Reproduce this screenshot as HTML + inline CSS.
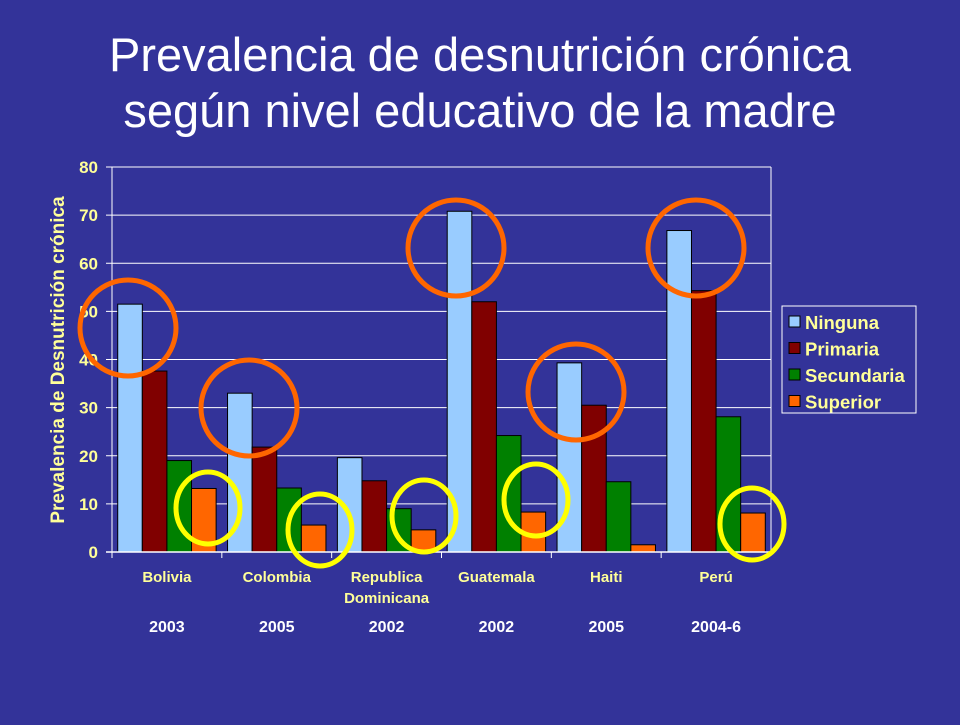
<!DOCTYPE html>
<html><head><meta charset="utf-8"><style>
body{margin:0;background:#333399;}
svg text{font-family:"Liberation Sans",Arial,sans-serif;}
</style></head><body>
<svg width="960" height="720" viewBox="0 0 960 720">
<rect width="960" height="720" fill="#333399"/>
<text x="480" y="71" text-anchor="middle" font-size="47" fill="#ffffff">Prevalencia de desnutrición crónica</text>
<text x="480" y="127" text-anchor="middle" font-size="47" fill="#ffffff">según nivel educativo de la madre</text>
<g id="chart"></g>
<text transform="translate(64,360) rotate(-90)" text-anchor="middle" font-size="19" font-weight="bold" fill="#ffff99">Prevalencia de Desnutrición crónica</text>
<g>
<rect x="782" y="306" width="134" height="107" fill="none" stroke="#ffffff" stroke-width="1"/>
<g id="legend"></g>
</g>
<g fill="none" stroke="#ff6600" stroke-width="5">
<circle cx="128" cy="328" r="48"/>
<circle cx="249" cy="408" r="48"/>
<circle cx="456" cy="248" r="48"/>
<circle cx="576" cy="392" r="48"/>
<circle cx="696" cy="248" r="48"/>
</g>
<g fill="none" stroke="#ffff00" stroke-width="5">
<ellipse cx="208" cy="508" rx="32" ry="36"/>
<ellipse cx="320" cy="530" rx="32" ry="36"/>
<ellipse cx="424" cy="516" rx="32" ry="36"/>
<ellipse cx="536" cy="500" rx="32" ry="36"/>
<ellipse cx="752" cy="524" rx="32" ry="36"/>
</g>
</svg>
<script>
const categories=[["Bolivia"],["Colombia"],["Republica","Dominicana"],["Guatemala"],["Haiti"],["Perú"]];
const years=["2003","2005","2002","2002","2005","2004-6"];
const seriesNames=["Ninguna","Primaria","Secundaria","Superior"];
const ninguna=[51.5,33,19.6,70.8,39.3,66.8];
const primaria=[37.6,21.8,14.8,52,30.5,54.3];
const secundaria=[19,13.3,9,24.2,14.6,28.1];
const superior=[13.2,5.6,4.6,8.3,1.5,8.1];
const yTicks=[0,10,20,30,40,50,60,70,80];
const colors=["#99ccff","#800000","#008000","#ff6600"];
const series=[ninguna,primaria,secundaria,superior];
const NS="http://www.w3.org/2000/svg";
const X0=112,X1=771,Y0=552,Y1=167,YMAX=80;
const yS=v=>Y0-(v/YMAX)*(Y0-Y1);
const gw=(X1-X0)/categories.length;
const g=document.getElementById('chart');
function mk(t,a){const e=document.createElementNS(NS,t);for(const k in a)e.setAttribute(k,a[k]);return e;}
yTicks.forEach(t=>{
 const l=mk('line',{x1:X0-6,x2:X1,y1:yS(t),y2:yS(t),stroke:'#ffffff','stroke-width':1});
 
 
 g.appendChild(l);
 const tx=mk('text',{x:X0-14,y:yS(t)+6,'text-anchor':'end','font-size':17,'font-weight':'bold',fill:'#ffff99'});
 tx.textContent=t;
 
 
 g.appendChild(tx);
});
const fr=mk('line',{x1:X1,x2:X1,y1:Y1,y2:Y0,stroke:'#ffffff','stroke-width':1});


g.appendChild(fr);
const ya=mk('line',{x1:X0,x2:X0,y1:Y1,y2:Y0,stroke:'#ffffff','stroke-width':1});


g.appendChild(ya);
const bw=gw*0.224;
categories.forEach((c,i)=>{
 const gx=X0+i*gw;
 const start=gx+gw/2-bw*2;
 series.forEach((s,j)=>{
  const r=mk('rect',{x:start+j*bw,y:yS(s[i]),width:bw,height:Y0-yS(s[i]),fill:colors[j],stroke:'#000000','stroke-width':1});
  
  
  g.appendChild(r);
 });
 const tk=mk('line',{x1:gx,x2:gx,y1:Y0,y2:Y0+6,stroke:'#ffffff'});
 
 
 g.appendChild(tk);
 c.forEach((ln,k)=>{
  const t=mk('text',{x:gx+gw/2,y:582+k*21,'text-anchor':'middle','font-size':15,'font-weight':'bold',fill:'#ffff99'});
  t.textContent=ln;
  
  
  g.appendChild(t);
 });
 const y=mk('text',{x:gx+gw/2,y:632,'text-anchor':'middle','font-size':16,'font-weight':'bold',fill:'#ffffff'});
 y.textContent=years[i];
 
 
 g.appendChild(y);
});
const xa=mk('line',{x1:X0-6,x2:X1,y1:Y0,y2:Y0,stroke:'#ffffff','stroke-width':1.5});


g.appendChild(xa);
const lg=document.getElementById('legend');
seriesNames.forEach((n,j)=>{
 const y=316+j*26.5;
 const r=mk('rect',{x:789,y:y,width:11,height:11,fill:colors[j],stroke:'#000000'});
 
 
 lg.appendChild(r);
 const t=mk('text',{x:805,y:y+13,'font-size':18.5,'font-weight':'bold',fill:'#ffff99'});
 t.textContent=n;
 
 
 lg.appendChild(t);
});
</script>
</body></html>
